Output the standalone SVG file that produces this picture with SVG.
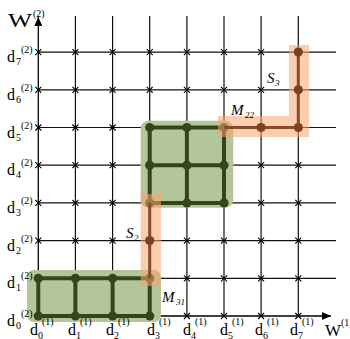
<svg xmlns="http://www.w3.org/2000/svg" xmlns:xlink="http://www.w3.org/1999/xlink" width="350" height="339" viewBox="0 0 350 339">
<style>
.grid{stroke:#111;stroke-width:1.2;fill:none}
.axis{stroke:#000;stroke-width:1.3;fill:none}
.cx{stroke:#000;stroke-width:1.1;fill:none}
.green{fill:#b3c699}
.gline{stroke:#36441b;stroke-width:4;fill:none}
.gdot{fill:#36441b}
.orange{fill:rgb(245,165,110);fill-opacity:0.55}
.bline{stroke:#8a4a28;stroke-width:3;fill:none}
.bdot{fill:#7e4020}
text{font-family:"Liberation Serif","Times New Roman",serif;fill:#000}
.lb{font-size:16px}
.sm{font-size:10px}
.it{font-style:italic;font-size:15px}
.its{font-style:italic;font-size:9px}
</style>
<defs>
<path id="x" d="M-3,-3L3,3M-3,3L3,-3" class="cx"/>
<marker id="ah" markerWidth="10" markerHeight="8" refX="9" refY="4" orient="auto" markerUnits="userSpaceOnUse">
<path d="M0,0L9,4L0,8Z" fill="#000"/>
</marker>
</defs>
<g id="grid">
<path class="grid" d="M75.4,316V16M112.6,316V16M149.7,316V16M186.9,316V16M224,316V16M261.1,316V16M298.3,316V16"/>
<path class="grid" d="M38.3,278.3H336M38.3,240.6H336M38.3,202.9H336M38.3,165.2H336M38.3,127.5H336M38.3,89.8H336M38.3,52.1H336"/>
<path class="axis" d="M38.3,316V17" marker-end="url(#ah)"/>
<path class="axis" d="M38.3,316H331" marker-end="url(#ah)"/>
</g>
<g id="crosses">
<use xlink:href="#x" x="38.3" y="316"/><use xlink:href="#x" x="75.4" y="316"/><use xlink:href="#x" x="112.6" y="316"/><use xlink:href="#x" x="149.7" y="316"/><use xlink:href="#x" x="186.9" y="316"/><use xlink:href="#x" x="224" y="316"/><use xlink:href="#x" x="261.1" y="316"/><use xlink:href="#x" x="298.3" y="316"/>
<use xlink:href="#x" x="38.3" y="278.3"/><use xlink:href="#x" x="75.4" y="278.3"/><use xlink:href="#x" x="112.6" y="278.3"/><use xlink:href="#x" x="149.7" y="278.3"/><use xlink:href="#x" x="186.9" y="278.3"/><use xlink:href="#x" x="224" y="278.3"/><use xlink:href="#x" x="261.1" y="278.3"/><use xlink:href="#x" x="298.3" y="278.3"/>
<use xlink:href="#x" x="38.3" y="240.6"/><use xlink:href="#x" x="75.4" y="240.6"/><use xlink:href="#x" x="112.6" y="240.6"/><use xlink:href="#x" x="149.7" y="240.6"/><use xlink:href="#x" x="186.9" y="240.6"/><use xlink:href="#x" x="224" y="240.6"/><use xlink:href="#x" x="261.1" y="240.6"/><use xlink:href="#x" x="298.3" y="240.6"/>
<use xlink:href="#x" x="38.3" y="202.9"/><use xlink:href="#x" x="75.4" y="202.9"/><use xlink:href="#x" x="112.6" y="202.9"/><use xlink:href="#x" x="149.7" y="202.9"/><use xlink:href="#x" x="186.9" y="202.9"/><use xlink:href="#x" x="224" y="202.9"/><use xlink:href="#x" x="261.1" y="202.9"/><use xlink:href="#x" x="298.3" y="202.9"/>
<use xlink:href="#x" x="38.3" y="165.2"/><use xlink:href="#x" x="75.4" y="165.2"/><use xlink:href="#x" x="112.6" y="165.2"/><use xlink:href="#x" x="149.7" y="165.2"/><use xlink:href="#x" x="186.9" y="165.2"/><use xlink:href="#x" x="224" y="165.2"/><use xlink:href="#x" x="261.1" y="165.2"/><use xlink:href="#x" x="298.3" y="165.2"/>
<use xlink:href="#x" x="38.3" y="127.5"/><use xlink:href="#x" x="75.4" y="127.5"/><use xlink:href="#x" x="112.6" y="127.5"/><use xlink:href="#x" x="149.7" y="127.5"/><use xlink:href="#x" x="186.9" y="127.5"/><use xlink:href="#x" x="224" y="127.5"/><use xlink:href="#x" x="261.1" y="127.5"/><use xlink:href="#x" x="298.3" y="127.5"/>
<use xlink:href="#x" x="38.3" y="89.8"/><use xlink:href="#x" x="75.4" y="89.8"/><use xlink:href="#x" x="112.6" y="89.8"/><use xlink:href="#x" x="149.7" y="89.8"/><use xlink:href="#x" x="186.9" y="89.8"/><use xlink:href="#x" x="224" y="89.8"/><use xlink:href="#x" x="261.1" y="89.8"/><use xlink:href="#x" x="298.3" y="89.8"/>
<use xlink:href="#x" x="38.3" y="52.1"/><use xlink:href="#x" x="75.4" y="52.1"/><use xlink:href="#x" x="112.6" y="52.1"/><use xlink:href="#x" x="149.7" y="52.1"/><use xlink:href="#x" x="186.9" y="52.1"/><use xlink:href="#x" x="224" y="52.1"/><use xlink:href="#x" x="261.1" y="52.1"/><use xlink:href="#x" x="298.3" y="52.1"/>
</g>
<g id="region-bottom">
<rect class="green" x="27" y="270" width="134" height="52" rx="7"/>
<path class="gline" d="M38.3,316H149.7M38.3,278.3H149.7M38.3,278.3V316M75.4,278.3V316M112.6,278.3V316M149.7,278.3V316"/>
<g class="gdot">
<circle cx="38.3" cy="316" r="4.6"/><circle cx="75.4" cy="316" r="4.6"/><circle cx="112.6" cy="316" r="4.6"/><circle cx="149.7" cy="316" r="4.6"/>
<circle cx="38.3" cy="278.3" r="4.6"/><circle cx="75.4" cy="278.3" r="4.6"/><circle cx="112.6" cy="278.3" r="4.6"/><circle cx="149.7" cy="278.3" r="4.6"/>
</g>
</g>
<g id="region-middle">
<rect class="green" x="140.7" y="120.7" width="92.6" height="87" rx="8"/>
<path class="gline" d="M149.7,127.5H224M149.7,165.2H224M149.7,202.9H224M149.7,127.5V202.9M186.9,127.5V202.9M224,127.5V202.9"/>
<g class="gdot">
<circle cx="149.7" cy="127.5" r="4.6"/><circle cx="186.9" cy="127.5" r="4.6"/><circle cx="224" cy="127.5" r="4.6"/>
<circle cx="149.7" cy="165.2" r="4.6"/><circle cx="186.9" cy="165.2" r="4.6"/><circle cx="224" cy="165.2" r="4.6"/>
<circle cx="149.7" cy="202.9" r="4.6"/><circle cx="186.9" cy="202.9" r="4.6"/><circle cx="224" cy="202.9" r="4.6"/>
</g>
</g>
<g id="path-S2">
<rect class="orange" x="140.7" y="194" width="20.3" height="92"/>
<path class="bline" d="M149.7,278.3V202.9"/>
<circle class="bdot" cx="149.7" cy="240.6" r="4.6"/>
</g>
<g id="path-S3">
<polygon class="orange" points="218,116 289,116 289,45 309,45 309,137 218,137"/>
<path class="bline" d="M224,127.5H298.3V52.1"/>
<circle class="bdot" cx="261.1" cy="127.5" r="4.6"/><circle class="bdot" cx="298.3" cy="127.5" r="4.6"/>
<circle class="bdot" cx="298.3" cy="89.8" r="4.6"/><circle class="bdot" cx="298.3" cy="52.1" r="4.6"/>
</g>
<g id="axis-labels">
<text x="8" y="27" font-size="19" textLength="24" lengthAdjust="spacingAndGlyphs">W</text><text x="33" y="17" class="sm" font-size="9">(2)</text>
<text x="325" y="336" font-size="17">W</text><text x="341" y="326" class="sm">(1)</text>
</g>
<g id="y-labels">
<text x="7" y="62" class="lb">d</text><text x="16" y="65" class="sm">7</text><text x="21" y="53" class="sm">(2)</text>
<text x="7" y="100" class="lb">d</text><text x="16" y="103" class="sm">6</text><text x="21" y="91" class="sm">(2)</text>
<text x="7" y="137.5" class="lb">d</text><text x="16" y="140.5" class="sm">5</text><text x="21" y="128.5" class="sm">(2)</text>
<text x="7" y="175" class="lb">d</text><text x="16" y="178" class="sm">4</text><text x="21" y="166" class="sm">(2)</text>
<text x="7" y="213" class="lb">d</text><text x="16" y="216" class="sm">3</text><text x="21" y="204" class="sm">(2)</text>
<text x="7" y="250.5" class="lb">d</text><text x="16" y="253.5" class="sm">2</text><text x="21" y="241.5" class="sm">(2)</text>
<text x="7" y="288" class="lb">d</text><text x="16" y="291" class="sm">1</text><text x="21" y="279" class="sm">(2)</text>
<text x="7" y="326" class="lb">d</text><text x="16" y="329" class="sm">0</text><text x="21" y="317" class="sm">(2)</text>
</g>
<g id="x-labels">
<text x="30" y="335" class="lb">d</text><text x="38" y="338.5" class="sm">0</text><text x="42" y="325" class="sm">(1)</text>
<text x="68" y="335" class="lb">d</text><text x="76" y="338.5" class="sm">1</text><text x="80" y="325" class="sm">(1)</text>
<text x="106" y="335" class="lb">d</text><text x="114" y="338.5" class="sm">2</text><text x="118" y="325" class="sm">(1)</text>
<text x="147" y="335" class="lb">d</text><text x="155" y="338.5" class="sm">3</text><text x="159" y="325" class="sm">(1)</text>
<text x="183" y="335" class="lb">d</text><text x="191" y="338.5" class="sm">4</text><text x="195" y="325" class="sm">(1)</text>
<text x="220" y="335" class="lb">d</text><text x="228" y="338.5" class="sm">5</text><text x="232" y="325" class="sm">(1)</text>
<text x="255" y="335" class="lb">d</text><text x="263" y="338.5" class="sm">6</text><text x="267" y="325" class="sm">(1)</text>
<text x="290" y="335" class="lb">d</text><text x="298" y="338.5" class="sm">7</text><text x="302" y="325" class="sm">(1)</text>
</g>
<g id="path-labels">
<text x="126" y="238" class="it">S</text><text x="134" y="241" class="its">2</text>
<text x="267" y="83" class="it">S</text><text x="275" y="86" class="its">3</text>
<text x="231" y="115" class="it">M</text><text x="245" y="118" class="its">22</text>
<text x="162" y="302" class="it">M</text><text x="176" y="305" class="its">31</text>
</g>
</svg>
